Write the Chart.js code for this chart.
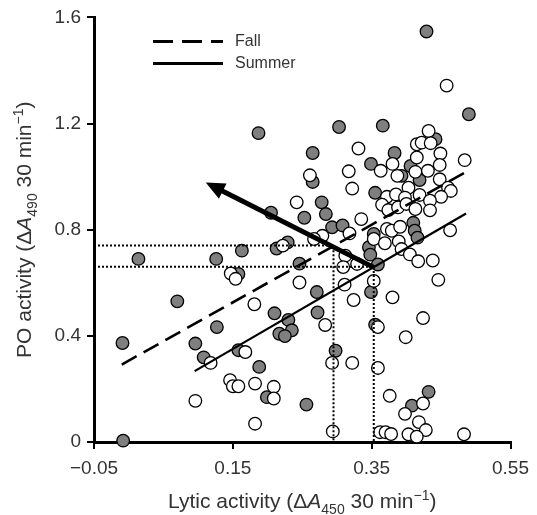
<!DOCTYPE html>
<html><head><meta charset="utf-8">
<style>html,body{margin:0;padding:0;background:#fff}canvas{display:block}</style>
</head><body>
<canvas id="c" width="537" height="515"></canvas>
<script src="https://cdnjs.cloudflare.com/ajax/libs/Chart.js/4.4.1/chart.umd.js"></script>
<script>
// Fall (grey filled) and Summer (open) samples
const fallX=[0.429,0.490,0.187,0.303,0.366,0.265,0.383,0.442,0.349,0.406,0.419,0.393,0.265,0.355,0.278,0.284,0.205,0.253,0.293,0.308,
  0.410,0.412,0.416,0.353,0.346,0.348,0.359,0.229,0.213,0.163,0.246,0.158,0.014,0.126,0.070,-0.009,0.127,0.096,0.108,-0.008,
  0.158,0.188,0.199,0.271,0.210,0.272,0.230,0.235,0.217,0.225,0.298,0.256,0.349,0.355,0.432,0.408];
const fallY=[1.547,1.235,1.164,1.187,1.192,1.089,1.089,1.141,1.048,1.040,0.987,1.003,0.980,0.939,0.903,0.859,0.864,0.845,0.809,0.816,
  0.826,0.796,0.770,0.784,0.734,0.706,0.669,0.752,0.729,0.721,0.672,0.633,0.690,0.690,0.530,0.373,0.433,0.371,0.319,0.005,
  0.346,0.283,0.169,0.565,0.485,0.488,0.460,0.421,0.408,0.399,0.344,0.141,0.565,0.442,0.189,0.137];
const summerX=[0.458,0.432,0.331,0.415,0.422,0.435,0.449,0.415,0.484,0.317,0.363,0.380,0.413,0.431,0.448,0.387,0.261,0.448,0.322,0.403,
  0.372,0.385,0.398,0.419,0.460,0.464,0.450,0.434,0.365,0.374,0.388,0.400,0.413,0.434,0.242,0.335,0.463,0.372,0.379,0.391,
  0.318,0.353,0.369,0.389,0.393,0.405,0.417,0.438,0.329,0.312,0.279,0.267,0.222,0.309,0.147,0.154,0.181,0.246,0.311,0.353,
  0.446,0.380,0.324,0.424,0.283,0.359,0.399,0.168,0.118,0.293,0.322,0.359,0.146,0.150,0.158,0.182,0.209,0.209,0.096,0.182,
  0.294,0.376,0.424,0.398,0.418,0.428,0.362,0.370,0.378,0.403,0.415,0.483];
const summerY=[1.343,1.172,1.106,1.122,1.128,1.126,1.087,1.072,1.062,1.020,1.022,1.048,1.018,1.022,1.044,1.003,1.005,0.990,0.955,0.958,
  0.924,0.933,0.921,0.931,0.958,0.946,0.924,0.909,0.894,0.874,0.884,0.897,0.878,0.873,0.903,0.840,0.798,0.803,0.796,0.811,
  0.786,0.765,0.749,0.756,0.727,0.707,0.681,0.684,0.671,0.702,0.777,0.765,0.740,0.659,0.635,0.615,0.519,0.601,0.593,0.607,
  0.611,0.545,0.535,0.467,0.441,0.433,0.395,0.339,0.298,0.298,0.298,0.279,0.233,0.210,0.210,0.220,0.208,0.164,0.155,0.069,
  0.040,0.174,0.145,0.106,0.075,0.045,0.037,0.037,0.030,0.029,0.020,0.029];

// regression lines
const fallLineX=[-0.010,0.489], fallLineY=[0.292,1.022];
const summerLineX=[0.095,0.486], summerLineY=[0.267,0.861];
// guide lines (dotted) and shift arrow
const fallGuideX=[-0.05,0.295,0.295], fallGuideY=[0.74,0.74,0];
const summerGuideX=[-0.05,0.353,0.353], summerGuideY=[0.66,0.66,0];
const arrowX=[0.353,0.120], arrowY=[0.658,0.966];

const xTicks=[-0.05,0.15,0.35,0.55];
const yTicks=[0,0.4,0.8,1.2,1.6];

const FONT='"Liberation Sans", Arial, sans-serif';
const TXT='#333';
const pts=(xs,ys)=>xs.map((x,i)=>({x,y:ys[i]}));
const minus=v=>(v<0?'\u2212':'')+Math.abs(v).toFixed(2);

function partFont(p,size){
  const s=(p.sub||p.sup)?Math.round(size*0.68):size;
  return (p.it?'italic ':'')+s+'px '+FONT;
}
function richText(ctx,parts,x,y,size){
  let w=0;
  parts.forEach(p=>{ctx.font=partFont(p,size);p.w=ctx.measureText(p.t).width;w+=p.w;});
  let cx=x-w/2;
  parts.forEach(p=>{
    ctx.font=partFont(p,size);
    const dy=p.sub?size*0.28:p.sup?-size*0.4:0;
    ctx.fillText(p.t,cx,y+dy);cx+=p.w;
  });
}

const decor={
  id:'decor',
  afterDatasetsDraw(chart){
    const ctx=chart.ctx;
    // arrowhead at end of arrow dataset
    const m=chart.getDatasetMeta(chart.data.datasets.findIndex(d=>d.label==='arrow'));
    const a=m.data[0],b=m.data[1];
    const ang=Math.atan2(b.y-a.y,b.x-a.x);
    ctx.save();
    ctx.translate(b.x,b.y);ctx.rotate(ang);
    ctx.beginPath();ctx.moveTo(7,0);ctx.lineTo(-12,-8.5);ctx.lineTo(-12,8.5);ctx.closePath();
    ctx.fillStyle='#000';ctx.fill();
    ctx.restore();
  },
  afterDraw(chart){
    const ctx=chart.ctx, ca=chart.chartArea;
    ctx.save();
    ctx.fillStyle=TXT;
    // legend
    const lx=ca.left+59, ly1=ca.top+24, ly2=ca.top+46;
    ctx.strokeStyle='#000';ctx.lineWidth=3;
    ctx.setLineDash([20,9]);
    ctx.beginPath();ctx.moveTo(lx,ly1);ctx.lineTo(lx+70,ly1);ctx.stroke();
    ctx.setLineDash([]);
    ctx.beginPath();ctx.moveTo(lx,ly2);ctx.lineTo(lx+70,ly2);ctx.stroke();
    ctx.font='16px '+FONT;ctx.textBaseline='middle';
    ctx.fillText('Fall',lx+82,ly1);
    ctx.fillText('Summer',lx+82,ly2);
    ctx.textBaseline='alphabetic';
    // axis titles
    richText(ctx,[{t:'Lytic activity (\u0394'},{t:'A',it:true},{t:'450',sub:true},{t:' 30 min'},{t:'\u22121',sup:true},{t:')'}],
      (ca.left+ca.right)/2,508,21);
    ctx.translate(31,(ca.top+ca.bottom)/2);ctx.rotate(-Math.PI/2);
    richText(ctx,[{t:'PO activity (\u0394'},{t:'A',it:true},{t:'490',sub:true},{t:' 30 min'},{t:'\u22121',sup:true},{t:')'}],
      0,0,21);
    ctx.restore();
  }
};

const lineDs=(label,xs,ys,extra)=>Object.assign({type:'line',label,data:pts(xs,ys),borderColor:'#000',
  pointRadius:0,fill:false,tension:0,clip:false},extra);

new Chart(document.getElementById('c'),{
  type:'scatter',
  data:{datasets:[
    lineDs('arrow',arrowX,arrowY,{borderWidth:5,order:0}),
    lineDs('Fall',fallLineX,fallLineY,{borderWidth:2.6,borderDash:[17,8],order:1}),
    lineDs('Summer',summerLineX,summerLineY,{borderWidth:2.2,order:1}),
    lineDs('fallGuide',fallGuideX,fallGuideY,{borderWidth:2,borderDash:[2,2],order:1}),
    lineDs('summerGuide',summerGuideX,summerGuideY,{borderWidth:2,borderDash:[2,2],order:1}),
    {label:'Summer data',data:pts(summerX,summerY),backgroundColor:'#fff',borderColor:'#000',borderWidth:1.3,pointRadius:6.3,order:3,clip:false},
    {label:'Fall data',data:pts(fallX,fallY),backgroundColor:'#7f7f7f',borderColor:'#000',borderWidth:1.3,pointRadius:6.3,order:4,clip:false}
  ]},
  options:{
    responsive:false,animation:false,
    layout:{padding:{left:0,top:16,right:22,bottom:0}},
    plugins:{legend:{display:false},tooltip:{enabled:false}},
    scales:{
      x:{type:'linear',min:-0.05,max:0.55,
        afterBuildTicks:s=>{s.ticks=xTicks.map(v=>({value:v}));},
        afterFit:s=>{s.height=73;},
        ticks:{font:{size:19,family:FONT},color:TXT,padding:8,maxRotation:0,callback:v=>minus(v)},
        grid:{drawOnChartArea:false,drawTicks:true,tickLength:7,color:'#000',lineWidth:2},
        border:{color:'#000',width:3}},
      y:{type:'linear',min:0,max:1.6,
        afterBuildTicks:s=>{s.ticks=yTicks.map(v=>({value:v}));},
        afterFit:s=>{s.width=94;},
        ticks:{font:{size:19,family:FONT},color:TXT,padding:6,callback:v=>v===0?'0':v.toFixed(1)},
        grid:{drawOnChartArea:false,drawTicks:true,tickLength:7,color:'#000',lineWidth:2},
        border:{color:'#000',width:3}}
    }
  },
  plugins:[decor]
});
</script>
</body></html>
